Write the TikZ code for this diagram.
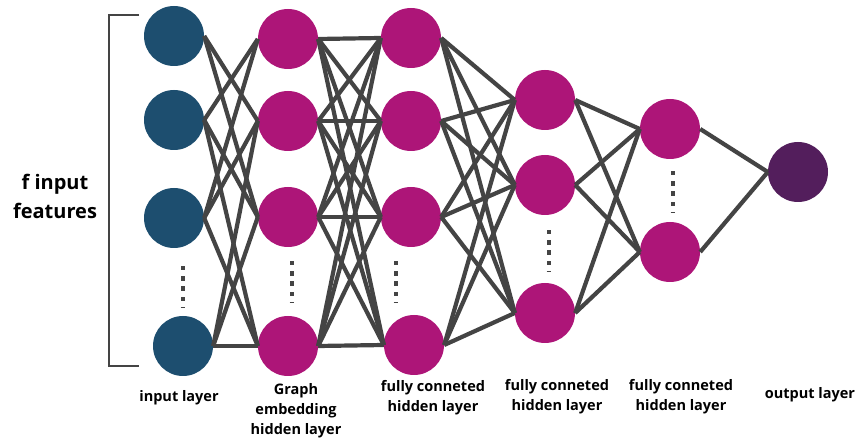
\documentclass[tikz,border=0pt]{standalone}
\usepackage{fontspec}
\setmainfont{Open Sans}
\definecolor{inblue}{HTML}{1D4E6F}
\definecolor{hidmag}{HTML}{AD1578}
\definecolor{outpur}{HTML}{531E5C}
\definecolor{wiregray}{HTML}{444444}
\tikzset{
  neuron/.style={circle, minimum size=60pt, inner sep=0pt, draw=none},
  inp/.style={neuron, fill=inblue},
  hid/.style={neuron, fill=hidmag},
  outn/.style={neuron, fill=outpur},
  wire/.style={draw=wiregray, line width=4.2pt, line join=miter},
  lbl/.style={font=\bfseries\fontsize{14.5}{20}\selectfont, align=center, text=black, inner sep=0pt},
  dotcol/.pic={
    \foreach \k in {0,1,2,3}
      \fill[wiregray] (-2.3,\k*10.3-2.3) rectangle (2.3,\k*10.3+2.3);
    \draw[wiregray, line width=0.7pt] (-2.3,39) -- (2.3,39);
  }
}
\begin{document}
\begin{tikzpicture}[x=1pt, y=-1pt]
\useasboundingbox (0,0) rectangle (857,443);

% bracket spanning the input features
\draw[wiregray, line width=1.3pt] (139,15) -- (109,15) -- (109,366) -- (139,366);
\node[font=\bfseries\fontsize{20}{29}\selectfont, align=center, inner sep=0pt] (flabel) at (55,196) {f input\\features};

% input layer
\node[inp] (i1) at (174,36) {};
\node[inp] (i2) at (174,120) {};
\node[inp] (i3) at (174,218) {};
\node[inp] (i4) at (183,346) {};

% graph embedding hidden layer
\node[hid] (e1) at (288,39) {};
\node[hid] (e2) at (288,121) {};
\node[hid] (e3) at (288,217) {};
\node[hid] (e4) at (288,346) {};

% first fully connected hidden layer
\node[hid] (a1) at (411,38) {};
\node[hid] (a2) at (411,121) {};
\node[hid] (a3) at (411,217) {};
\node[hid] (a4) at (414,345) {};

% second fully connected hidden layer
\node[hid] (b1) at (545,100) {};
\node[hid] (b2) at (545,185) {};
\node[hid] (b3) at (545,313) {};

% third fully connected hidden layer
\node[hid] (c1) at (670,129) {};
\node[hid] (c2) at (670,252) {};

% output layer
\node[outn] (o) at (798,172) {};

% input -> embedding
\foreach \s/\t in {1/2,1/3,2/1,2/3,2/4,3/1,3/2,3/4,4/2,4/3,4/4}
  \draw[wire] (i\s.east) -- (e\t.west);
% embedding -> fully connected 1
\foreach \s in {1,...,4}
  \foreach \t in {1,...,4}
    \draw[wire] (e\s.east) -- (a\t.west);
% fully connected 1 -> fully connected 2
\foreach \s in {1,...,4}
  \foreach \t in {1,...,3}
    \draw[wire] (a\s.east) -- (b\t.west);
% fully connected 2 -> fully connected 3
\foreach \s in {1,...,3}
  \foreach \t in {1,2}
    \draw[wire] (b\s.east) -- (c\t.west);
% fully connected 3 -> output
\foreach \s in {1,2}
  \draw[wire] (c\s.east) -- (o.west);

% ellipsis marks between neurons
\pic at (183,268) {dotcol};
\pic at (292,263) {dotcol};
\pic at (396,263) {dotcol};
\pic at (549,232) {dotcol};
\pic at (673,173) {dotcol};

% layer labels
\node[lbl] (l1) at (179,398) {input layer};
\node[lbl] (l2) at (296,411) {Graph\\embedding\\hidden layer};
\node[lbl] (l3) at (433,398) {fully conneted\\hidden layer};
\node[lbl] (l4) at (557,397) {fully conneted\\hidden layer};
\node[lbl] (l5) at (681,397) {fully conneted\\hidden layer};
\node[lbl] (l6) at (810,395) {output layer};
\end{tikzpicture}
\end{document}
